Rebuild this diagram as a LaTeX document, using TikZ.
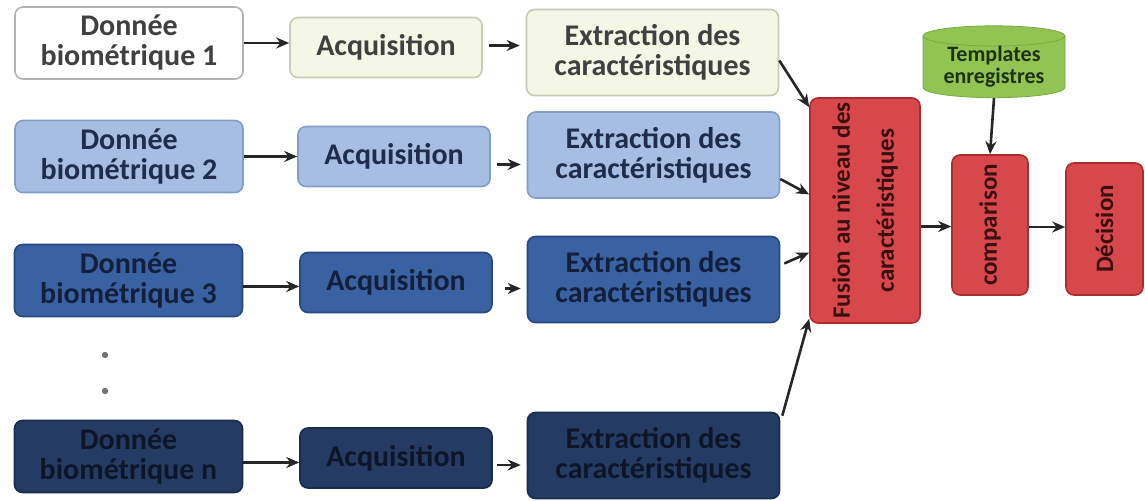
\documentclass[tikz,border=0pt]{standalone}
\usepackage{fontspec}
\setmainfont{Carlito}
\usepackage{xcolor}
\usetikzlibrary{arrows.meta,calc,shapes.geometric}
\definecolor{pale}{RGB}{244,246,230}
\definecolor{palebd}{RGB}{200,202,180}
\definecolor{bleuc}{RGB}{165,190,225}
\definecolor{bleucbd}{RGB}{130,158,200}
\definecolor{bleum}{RGB}{58,98,162}
\definecolor{bleumbd}{RGB}{40,72,130}
\definecolor{bleuf}{RGB}{36,60,100}
\definecolor{bleufbd}{RGB}{25,44,78}
\definecolor{rouge}{RGB}{214,72,76}
\definecolor{rougebd}{RGB}{172,44,46}
\definecolor{vert}{RGB}{146,196,84}
\definecolor{vertbd}{RGB}{120,170,65}

\begin{document}
\begin{tikzpicture}[x=0.5pt, y=-0.5pt,
  every node/.style={font=\bfseries\fontsize{15}{15}\selectfont},
  box/.style={draw, rounded corners=4pt, align=center, inner sep=0pt, line width=0.8pt},
  don/.style={box, minimum width=114pt, minimum height=36pt},
  acq/.style={box, minimum width=96pt, minimum height=30pt},
  ext/.style={box, minimum width=126pt, minimum height=43pt},
  rang0/.style={fill=white, draw=black!30, text=black!75},
  rang1/.style={fill=pale, draw=palebd, text=black!75},
  rang2/.style={fill=bleuc, draw=bleucbd, text={rgb,255:red,30;green,45;blue,75}},
  rang3/.style={fill=bleum, draw=bleumbd, text={rgb,255:red,18;green,32;blue,60}},
  rang4/.style={fill=bleuf, draw=bleufbd, text={rgb,255:red,12;green,22;blue,40}},
  rbox/.style={box, fill=rouge, draw=rougebd},
  rtext/.style={rotate=90, align=center, text={rgb,255:red,60;green,15;blue,15},
    font=\bfseries\fontsize{12.5}{22}\selectfont},
  lien/.style={-{Stealth[length=6.5pt,width=5.5pt]}, line width=1.3pt, draw=black!85}]

  \useasboundingbox (0,0) rectangle (1145,501);

  % donnees biometriques
  \node[don, rang0] (d1) at (129,43) {Donnée\\biométrique 1};
  \node[don, rang2] (d2) at (129,156.5) {Donnée\\biométrique 2};
  \node[don, rang3] (d3) at (128.5,280.5) {Donnée\\biométrique 3};
  \node[don, rang4] (d4) at (128.5,456.5) {Donnée\\biométrique n};

  % acquisition
  \node[acq, rang1] (a1) at (386,47.5) {Acquisition};
  \node[acq, rang2] (a2) at (394,156.5) {Acquisition};
  \node[acq, rang3] (a3) at (396,282.5) {Acquisition};
  \node[acq, rang4] (a4) at (396,458) {Acquisition};

  % extraction
  \node[ext, rang1] (e1) at (652.5,52.5) {Extraction des\\caractéristiques};
  \node[ext, rang2] (e2) at (653.5,155) {Extraction des\\caractéristiques};
  \node[ext, rang3] (e3) at (653.5,279.5) {Extraction des\\caractéristiques};
  \node[ext, rang4] (e4) at (653.5,455.5) {Extraction des\\caractéristiques};

  \fill[black!55] (105,355) circle (1.6pt) (105,391) circle (1.6pt);

  % fusion, comparaison, decision
  \node[rbox, minimum width=55pt, minimum height=112.5pt,
    label={[rtext]center:{Fusion au niveau des\\caractéristiques}}] (fus) at (865,210.5) {};
  \node[rbox, minimum width=38pt, minimum height=70pt,
    label={[rtext]center:comparison}] (cmp) at (990,225) {};
  \node[rbox, minimum width=38.5pt, minimum height=66pt,
    label={[rtext]center:Décision}] (dec) at (1104.5,229) {};
  \node[cylinder, shape border rotate=90, aspect=0.2, draw=vertbd, fill=vert,
    minimum width=71pt, minimum height=35pt, inner sep=0pt, align=center,
    text={rgb,255:red,30;green,50;blue,20},
    font=\bfseries\fontsize{11}{11}\selectfont] (tpl) at (994,67) {Templates\\enregistres};

  \draw[lien] (d1.east) -- (d1.east -| a1.west);
  \draw[lien] (d2.east) -- (d2.east -| a2.west);
  \draw[lien] ([yshift=-3pt]d3.east) -- ([yshift=-3pt]d3.east -| a3.west);
  \draw[lien] ([yshift=-3pt]d4.east) -- ([yshift=-3pt]d4.east -| a4.west);
  \draw[lien, shorten <=3pt, shorten >=3pt] ([yshift=1pt]a1.east) -- ([yshift=1pt]a1.east -| e1.west);
  \draw[lien, shorten <=3pt, shorten >=3pt] ([yshift=-4pt]a2.east) -- ([yshift=-4pt]a2.east -| e2.west);
  \draw[lien, shorten <=6pt, shorten >=3pt] ([yshift=-3pt]a3.east) -- ([yshift=-3pt]a3.east -| e3.west);
  \draw[lien, shorten <=2pt, shorten >=3pt] ([yshift=-3.5pt]a4.east) -- ([yshift=-3.5pt]a4.east -| e4.west);

  \draw[lien] ([yshift=-4pt]e1.east) -- ([yshift=-5pt]fus.north west);
  \draw[lien] ([yshift=-12pt]e2.east) -- ([yshift=8pt]fus.west);
  \draw[lien] ([xshift=2pt,yshift=8pt]e3.east) -- ([yshift=-21pt]fus.west);
  \draw[lien] ([xshift=1pt,yshift=-2pt]e4.north east) -- ([yshift=2.5pt]fus.south west);
  \draw[lien] (tpl.south) -- (cmp.north);
  \draw[lien] ([yshift=-8pt]fus.east) -- ([yshift=-8pt]fus.east -| cmp.west);
  \draw[lien] ([yshift=-1pt]cmp.east) -- ([yshift=-1pt]cmp.east -| dec.west);
\end{tikzpicture}
\end{document}
